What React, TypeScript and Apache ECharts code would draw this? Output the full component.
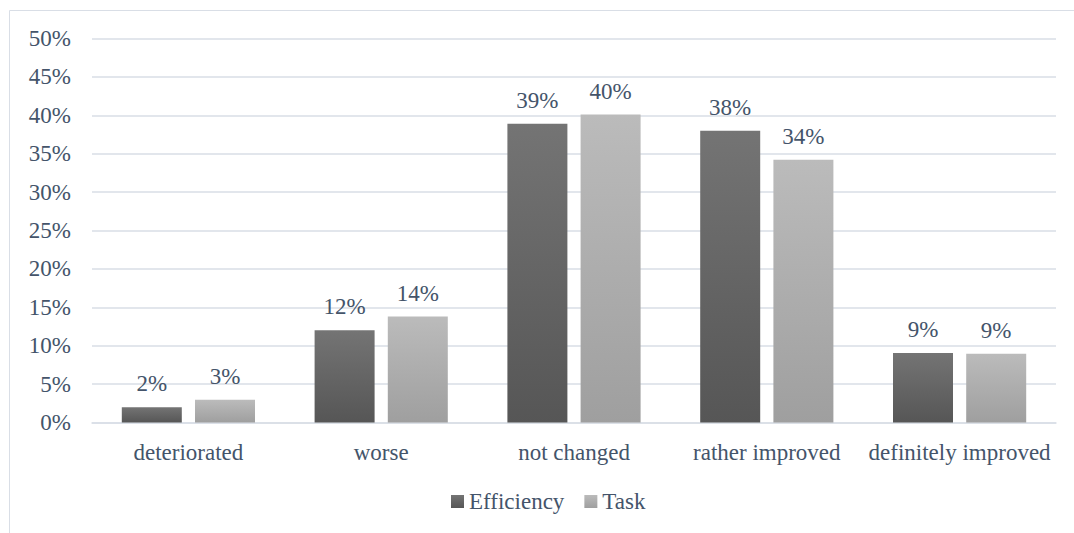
import React, { useEffect, useRef } from "react";
import * as echarts from "echarts";

const categories = ["deteriorated", "worse", "not changed", "rather improved", "definitely improved"];
const efficiency = [2.0, 12.0, 38.9, 38.0, 9.05];
const task = [2.95, 13.8, 40.1, 34.2, 8.95];
const seriesNames = ["Efficiency", "Task"];

const TEXT = "#44546A";
const GRID = "#d9dee6";
const FONT = "Liberation Serif";

const grad = (top: string, bottom: string) =>
  new echarts.graphic.LinearGradient(0, 0, 0, 1, [
    { offset: 0, color: top },
    { offset: 1, color: bottom },
  ]);

export default function App() {
  const ref = useRef<HTMLDivElement>(null);
  useEffect(() => {
    if (!ref.current) return;
    const chart = echarts.init(ref.current, undefined, { renderer: "svg" });
    const label = {
      show: true,
      position: "top" as const,
      distance: 12,
      color: TEXT,
      fontFamily: FONT,
      fontSize: 23,
      formatter: (p: any) => Math.round(p.value) + "%",
    };
    chart.setOption({
      animation: false,
      backgroundColor: "#ffffff",
      textStyle: { fontFamily: FONT },
      graphic: [
        { type: "line", shape: { x1: 9.5, y1: 10.5, x2: 1074, y2: 10.5 }, style: { stroke: GRID, lineWidth: 1 } },
        { type: "line", shape: { x1: 9.5, y1: 10.5, x2: 9.5, y2: 533 }, style: { stroke: GRID, lineWidth: 1 } },
      ],
      grid: { left: 92, right: 18, top: 38.5, bottom: 110.5, containLabel: false },
      legend: {
        data: seriesNames,
        left: 446,
        top: 485,
        icon: "rect",
        itemWidth: 13,
        itemHeight: 13,
        itemGap: 20,
        textStyle: { color: TEXT, fontFamily: FONT, fontSize: 23 },
      },
      xAxis: {
        type: "category",
        data: categories,
        axisLine: { show: true, lineStyle: { color: GRID, width: 1.5 } },
        axisTick: { show: false },
        axisLabel: { color: TEXT, fontFamily: FONT, fontSize: 23, margin: 18, interval: 0 },
      },
      yAxis: {
        type: "value",
        min: 0,
        max: 50,
        interval: 5,
        axisLine: { show: false },
        axisTick: { show: false },
        splitLine: { lineStyle: { color: GRID, width: 1.5 } },
        axisLabel: {
          color: TEXT,
          fontFamily: FONT,
          fontSize: 23,
          margin: 21,
          formatter: (v: number) => v + "%",
        },
      },
      series: [
        {
          name: seriesNames[0],
          type: "bar",
          data: efficiency,
          barWidth: 60,
          barGap: "22%",
          itemStyle: { color: grad("#747474", "#565656") },
          label,
        },
        {
          name: seriesNames[1],
          type: "bar",
          data: task,
          barWidth: 60,
          itemStyle: { color: grad("#bbbbbb", "#9f9f9f") },
          label,
        },
      ],
    });
    return () => chart.dispose();
  }, []);
  return (
    <div
      ref={ref}
      style={{ position: "fixed", left: 0, top: 0, width: 1074, height: 533 }}
    />
  );
}
